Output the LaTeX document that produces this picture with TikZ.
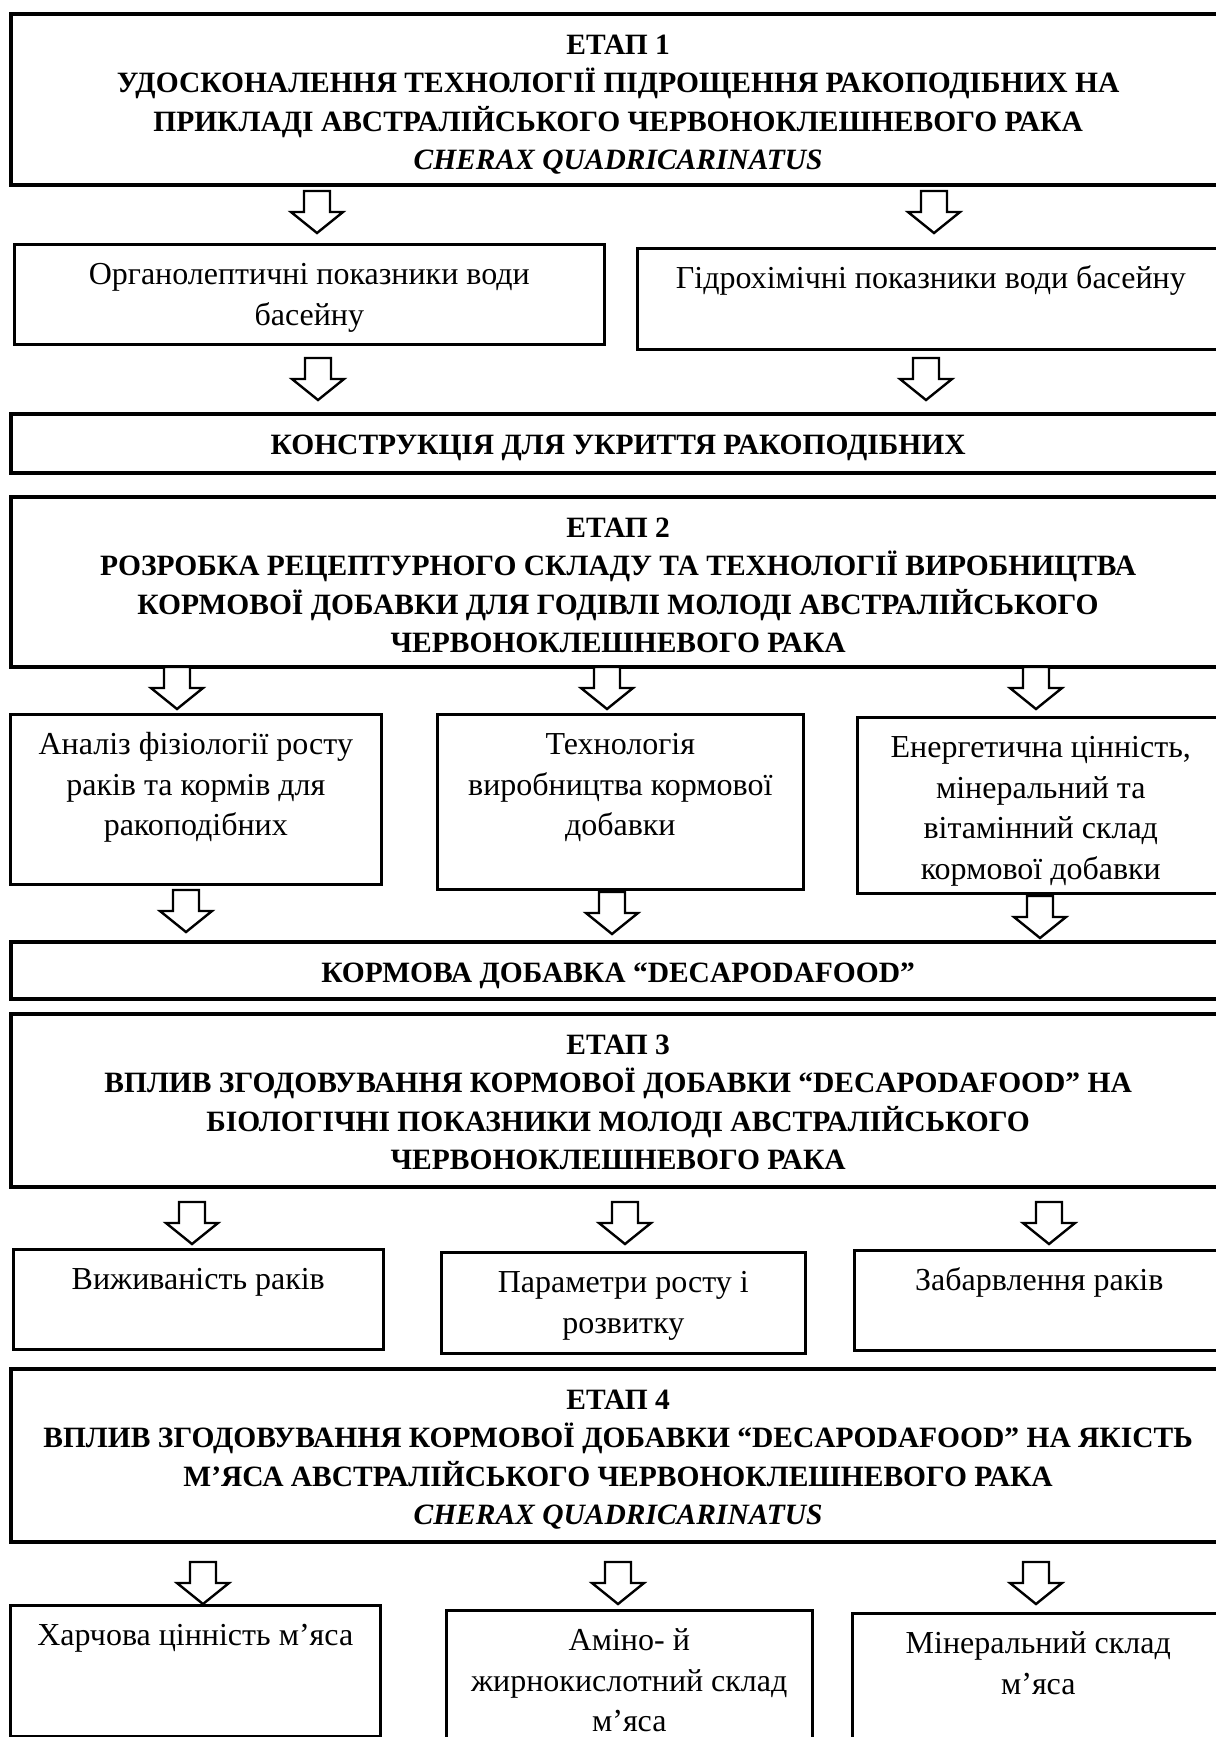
\documentclass[tikz,border=0pt]{standalone}
\usepackage{fontspec}
\setmainfont{Liberation Serif}
\newlength\unitpx
\setlength\unitpx{0.5pt}
% box text: width, height (in px), text
\newcommand{\boxtext}[3]{\parbox[t][#2\unitpx][t]{#1\unitpx}{\centering\rule{0pt}{20pt}#3\par}}
\tikzset{
  thinbox/.style={draw, line width=1.3pt, inner sep=0pt, anchor=north west},
  etapbox/.style={thinbox, line width=2.1pt, font=\fontsize{14.75}{19.3}\selectfont\bfseries},
  downarr/.pic={\draw[line width=1.2pt, fill=white] (-13,0) -- (-13,21) -- (-26,21) -- (0,42) -- (26,21) -- (13,21) -- (13,0) -- cycle;}
}
\begin{document}
\begin{tikzpicture}[x=0.5pt, y=-0.5pt, font=\fontsize{16}{20.4}\selectfont]
  \clip (0,0) rectangle (1216,1737);
  \fill[white] (0,0) rectangle (1216,1737);
  % stage 1
  \node[etapbox] (e1) at (9,12) {\boxtext{1214}{171}{ЕТАП 1\\УДОСКОНАЛЕННЯ ТЕХНОЛОГІЇ ПІДРОЩЕННЯ РАКОПОДІБНИХ НА\\ПРИКЛАДІ АВСТРАЛІЙСЬКОГО ЧЕРВОНОКЛЕШНЕВОГО РАКА\\\textit{CHERAX QUADRICARINATUS}}};
  \node[thinbox] (org) at (13,243) {\boxtext{590}{100}{Органолептичні показники води\\басейну}};
  \node[thinbox] (hyd) at (636,247) {\boxtext{587}{101}{Гідрохімічні показники води басейну}};
  \node[etapbox] (kon) at (9,412) {\boxtext{1214}{59}{КОНСТРУКЦІЯ ДЛЯ УКРИТТЯ РАКОПОДІБНИХ}};
  % stage 2
  \node[etapbox] (e2) at (9,495) {\boxtext{1214}{170}{ЕТАП 2\\РОЗРОБКА РЕЦЕПТУРНОГО СКЛАДУ ТА ТЕХНОЛОГІЇ ВИРОБНИЦТВА\\КОРМОВОЇ ДОБАВКИ ДЛЯ ГОДІВЛІ МОЛОДІ АВСТРАЛІЙСЬКОГО\\ЧЕРВОНОКЛЕШНЕВОГО РАКА}};
  \node[thinbox] (an) at (9,713) {\boxtext{371}{170}{Аналіз фізіології росту\\раків та кормів для\\ракоподібних}};
  \node[thinbox] (tech) at (436,713) {\boxtext{366}{175}{Технологія\\виробництва кормової\\добавки}};
  \node[thinbox] (en) at (856,716) {\boxtext{367}{176}{Енергетична цінність,\\мінеральний та\\вітамінний склад\\кормової добавки}};
  \node[etapbox] (korm) at (9,940) {\boxtext{1214}{57}{КОРМОВА ДОБАВКА “DECAPODAFOOD”}};
  % stage 3
  \node[etapbox] (e3) at (9,1012) {\boxtext{1214}{173}{ЕТАП 3\\ВПЛИВ ЗГОДОВУВАННЯ КОРМОВОЇ ДОБАВКИ “DECAPODAFOOD” НА\\БІОЛОГІЧНІ ПОКАЗНИКИ МОЛОДІ АВСТРАЛІЙСЬКОГО\\ЧЕРВОНОКЛЕШНЕВОГО РАКА}};
  \node[thinbox] (vyzh) at (12,1248) {\boxtext{370}{100}{Виживаність раків}};
  \node[thinbox] (par) at (440,1251) {\boxtext{364}{101}{Параметри росту і\\розвитку}};
  \node[thinbox] (zab) at (853,1249) {\boxtext{370}{100}{Забарвлення раків}};
  % stage 4
  \node[etapbox] (e4) at (9,1367) {\boxtext{1214}{173}{ЕТАП 4\\ВПЛИВ ЗГОДОВУВАННЯ КОРМОВОЇ ДОБАВКИ “DECAPODAFOOD” НА ЯКІСТЬ\\М’ЯСА АВСТРАЛІЙСЬКОГО ЧЕРВОНОКЛЕШНЕВОГО РАКА\\\textit{CHERAX QUADRICARINATUS}}};
  \node[thinbox] (kh) at (9,1604) {\boxtext{370}{131}{Харчова цінність м’яса}};
  \node[thinbox] (am) at (445,1609) {\boxtext{366}{160}{Аміно- й\\жирнокислотний склад\\м’яса}};
  \node[thinbox] (min) at (851,1612) {\boxtext{372}{160}{Мінеральний склад\\м’яса}};
  % block arrows
  \foreach \x/\y in {317/191, 934/191, 318/358, 926/358,
                     177/667, 607/667, 1036/667, 186/890, 612/892, 1040/896,
                     192/1202, 625/1202, 1049/1202, 203/1562, 618/1562, 1036/1562}
    \pic at (\x,\y) {downarr};
\end{tikzpicture}
\end{document}
